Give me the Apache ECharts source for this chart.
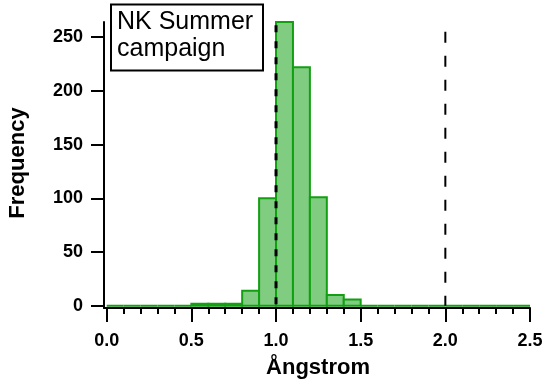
<!DOCTYPE html>
<html>
<head>
<meta charset="utf-8">
<script src="https://cdn.jsdelivr.net/npm/echarts@6/dist/echarts.min.js"></script>
<style>
  html, body { margin: 0; padding: 0; background: #fff; }
  #chart { width: 546px; height: 385px; }
</style>
</head>
<body>
<div id="chart"></div>
<script>
// Histogram of Ångström exponent, bin width 0.1
const binStarts = [0.0, 0.1, 0.2, 0.3, 0.4, 0.5, 0.6, 0.7, 0.8, 0.9,
                   1.0, 1.1, 1.2, 1.3, 1.4, 1.5, 1.6, 1.7, 1.8, 1.9,
                   2.0, 2.1, 2.2, 2.3, 2.4];
const binWidth = 0.1;
const counts = [0, 0, 0, 0, 0, 2, 2, 2, 14, 100,
                264, 222, 101, 10, 6, 0, 0, 0, 0, 0,
                0, 0, 0, 0, 0];
const xMajorTicks = [0.0, 0.5, 1.0, 1.5, 2.0, 2.5];
const xMinorTicks = [0.1, 0.2, 0.3, 0.4, 0.6, 0.7, 0.8, 0.9, 1.1, 1.2, 1.3, 1.4,
                     1.6, 1.7, 1.8, 1.9, 2.1, 2.2, 2.3, 2.4];
const yTicks = [0, 50, 100, 150, 200, 250];
const refLines = [1.0, 2.0];
const boxText = 'NK Summer\ncampaign';

const FONT = '"Liberation Sans", Arial, sans-serif';
const chart = echarts.init(document.getElementById('chart'), null, { renderer: 'canvas' });

const bins = binStarts.map((s, i) => [s, +(s + binWidth).toFixed(2), counts[i]]);

const axisBase = {
  type: 'value', gridIndex: 0, min: -0.016, max: 2.5, position: 'bottom',
  splitLine: { show: false }
};

chart.setOption({
  animation: false,
  grid: { left: 104, top: 22, width: 426, height: 286 },
  xAxis: [
    Object.assign({}, axisBase, {
      axisLine: { show: true, onZero: false, lineStyle: { color: '#000', width: 2 } },
      axisTick: { show: true, customValues: xMajorTicks, length: 14, lineStyle: { color: '#000', width: 2 } },
      axisLabel: {
        customValues: xMajorTicks, margin: 24,
        formatter: v => v.toFixed(1),
        color: '#000', fontFamily: FONT, fontWeight: 'bold', fontSize: 18
      }
    }),
    Object.assign({}, axisBase, {
      axisLine: { show: false, onZero: false },
      axisTick: { show: true, customValues: xMinorTicks, length: 6, lineStyle: { color: '#000', width: 2 } },
      axisLabel: { show: false }
    })
  ],
  yAxis: {
    type: 'value', min: -2, max: 264,
    splitLine: { show: false },
    axisLine: { show: true, onZero: false, lineStyle: { color: '#000', width: 2 } },
    axisTick: { show: true, customValues: yTicks, length: 13, lineStyle: { color: '#000', width: 2 } },
    axisLabel: {
      customValues: yTicks, margin: 21,
      color: '#000', fontFamily: FONT, fontWeight: 'bold', fontSize: 18
    }
  },
  series: [
    {
      type: 'custom',
      xAxisIndex: 0,
      data: bins,
      renderItem: function (params, api) {
        const p0 = api.coord([api.value(0), api.value(2)]);
        const p1 = api.coord([api.value(1), 0]);
        return {
          type: 'rect',
          shape: { x: p0[0], y: p0[1], width: p1[0] - p0[0], height: p1[1] - p0[1] },
          style: { fill: '#80cc80', stroke: '#12a012', lineWidth: 2 }
        };
      },
      z: 2
    },
    {
      type: 'line', xAxisIndex: 0, symbol: 'none', silent: true, z: 5,
      data: [[refLines[0], 261], [refLines[0], 0]],
      lineStyle: { color: '#000', width: 3, type: [7, 9] }
    },
    {
      type: 'line', xAxisIndex: 0, symbol: 'none', silent: true, z: 5,
      data: [[refLines[1], 255], [refLines[1], 0]],
      lineStyle: { color: '#000', width: 2, type: [11, 13] }
    }
  ],
  graphic: [
    {
      type: 'rect', z: 10,
      shape: { x: 111, y: 4.5, width: 152, height: 66 },
      style: { fill: '#fff', stroke: '#000', lineWidth: 2 }
    },
    {
      type: 'text', z: 11, x: 117, y: 9,
      style: { text: boxText, font: '25px ' + FONT, fill: '#000', lineHeight: 27, verticalAlign: 'top' }
    },
    {
      type: 'text', x: 18, y: 163, rotation: Math.PI / 2,
      style: { text: 'Frequency', font: 'bold 22px ' + FONT, fill: '#000', align: 'center', verticalAlign: 'middle' }
    },
    {
      type: 'text', x: 318, y: 368,
      style: { text: 'Ångstrom', font: 'bold 22px ' + FONT, fill: '#000', align: 'center', verticalAlign: 'middle' }
    }
  ]
});
</script>
</body>
</html>
